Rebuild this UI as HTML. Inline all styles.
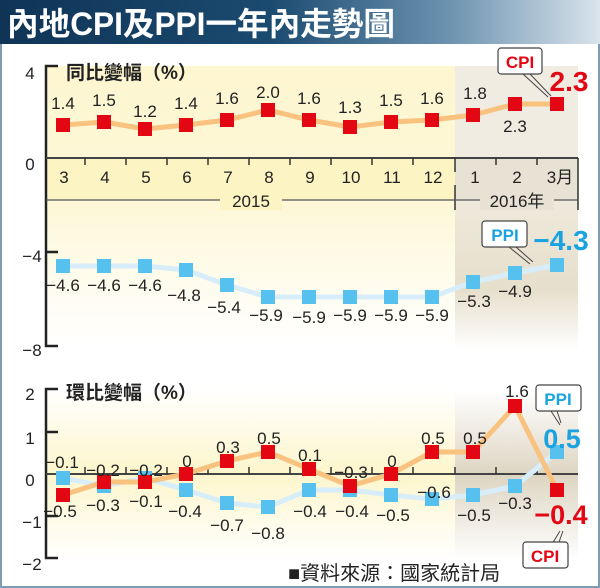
<!DOCTYPE html>
<html><head><meta charset="utf-8"><style>
html,body{margin:0;padding:0;background:#fff}
svg{display:block}
text{font-family:"Liberation Sans","Noto Sans CJK TC",sans-serif}
</style></head><body>
<svg width="600" height="588" viewBox="0 0 600 588" xmlns="http://www.w3.org/2000/svg">
<defs>
<linearGradient id="tg" x1="0" x2="1" y1="0" y2="0">
<stop offset="0" stop-color="#0f3456"/><stop offset="0.45" stop-color="#1b4a70"/><stop offset="0.75" stop-color="#6d93b0"/><stop offset="1" stop-color="#d9e4ec"/></linearGradient>
<linearGradient id="yg" x1="0" x2="0" y1="0" y2="1">
<stop offset="0" stop-color="#fdf6d0"/><stop offset="0.5" stop-color="#fef8d8"/><stop offset="1" stop-color="#ffffff"/></linearGradient>
<linearGradient id="yg2" x1="0" x2="0" y1="0" y2="1">
<stop offset="0" stop-color="#ffffff"/><stop offset="0.5" stop-color="#fdf6cc"/><stop offset="1" stop-color="#ffffff"/></linearGradient>
<linearGradient id="sg" x1="0" x2="0" y1="0" y2="1">
<stop offset="0" stop-color="#efe9dc"/><stop offset="0.6" stop-color="#e6dfcc"/><stop offset="1" stop-color="#ffffff"/></linearGradient>
<linearGradient id="sg2" x1="0" x2="0" y1="0" y2="1">
<stop offset="0" stop-color="#ffffff"/><stop offset="0.5" stop-color="#ddd5c2"/><stop offset="1" stop-color="#ffffff"/></linearGradient>
</defs>
<rect x="0" y="0" width="600" height="588" fill="#fff"/>
<rect x="1" y="1" width="598" height="586" fill="none" stroke="#7f9bb2" stroke-width="2"/>
<rect x="0" y="0" width="600" height="44" fill="url(#tg)"/>
<text x="7" y="35" font-size="32" font-weight="bold" fill="#fff" textLength="388" lengthAdjust="spacingAndGlyphs">內地CPI及PPI一年內走勢圖</text>

<rect x="46" y="66" width="409" height="280" fill="url(#yg)"/>
<rect x="455" y="66" width="123" height="100" fill="#f1ece2"/>
<rect x="455" y="158" width="123" height="42" fill="#e8e2d4"/>
<rect x="455" y="200" width="123" height="150" fill="url(#sg)"/>
<rect x="46" y="158" width="409" height="42" fill="#fdf4c4"/>

<g stroke="#222" stroke-width="2.5" fill="none">
<path d="M58 66 H46 V346 H58"/>
<path d="M46 252 H58"/>
</g>
<line x1="46" y1="158" x2="578" y2="158" stroke="#444" stroke-width="2"/>
<g stroke="#333" stroke-width="1.5">
<line x1="85" y1="158" x2="85" y2="165"/><line x1="126" y1="158" x2="126" y2="165"/><line x1="167" y1="158" x2="167" y2="165"/>
<line x1="208" y1="158" x2="208" y2="165"/><line x1="249" y1="158" x2="249" y2="165"/><line x1="290" y1="158" x2="290" y2="165"/>
<line x1="331" y1="158" x2="331" y2="165"/><line x1="372" y1="158" x2="372" y2="165"/><line x1="413" y1="158" x2="413" y2="165"/>
<line x1="455" y1="158" x2="455" y2="172"/><line x1="496" y1="158" x2="496" y2="165"/><line x1="537" y1="158" x2="537" y2="165"/>
<line x1="578" y1="158" x2="578" y2="210"/>
<line x1="455" y1="185" x2="455" y2="210"/>
</g>
<line x1="46" y1="200" x2="578" y2="200" stroke="#555" stroke-width="1.3"/>
<rect x="220" y="190" width="62" height="20" fill="#fdf4c4"/>
<rect x="480" y="190" width="74" height="20" fill="#e8e2d4"/>
<text x="251" y="207" font-size="17" text-anchor="middle" fill="#222">2015</text>
<text x="517" y="207" font-size="17" text-anchor="middle" fill="#222">2016年</text>
<g font-size="17" fill="#222" text-anchor="middle">
<text x="30" y="79">4</text><text x="30" y="170">0</text><text x="32" y="262">−4</text><text x="32" y="356">−8</text>
</g>
<text x="66" y="79" font-size="19" font-weight="bold" fill="#222">同比變幅（%）</text>
<g font-size="17" fill="#222" text-anchor="middle">
<text x="64" y="183">3</text><text x="105" y="183">4</text><text x="146" y="183">5</text><text x="187" y="183">6</text><text x="228" y="183">7</text><text x="269" y="183">8</text><text x="310" y="183">9</text><text x="351" y="183">10</text><text x="392" y="183">11</text><text x="433" y="183">12</text><text x="475" y="183">1</text><text x="517" y="183">2</text><text x="560" y="183">3月</text>
</g>
<polyline points="63,125 104,122 145,129 186,125 227,120 268,110 309,120 350,127 391,122 432,120 473,115 515,104 557,104" fill="none" stroke="#f9c27f" stroke-width="5"/>
<g fill="#e30613">
<rect x="56" y="118" width="14" height="14"/><rect x="97" y="115" width="14" height="14"/><rect x="138" y="122" width="14" height="14"/><rect x="179" y="118" width="14" height="14"/><rect x="220" y="113" width="14" height="14"/><rect x="261" y="103" width="14" height="14"/><rect x="302" y="113" width="14" height="14"/><rect x="343" y="120" width="14" height="14"/><rect x="384" y="115" width="14" height="14"/><rect x="425" y="113" width="14" height="14"/><rect x="466" y="108" width="14" height="14"/><rect x="508" y="97" width="14" height="14"/><rect x="550" y="97" width="14" height="14"/>
</g>
<g font-size="17" fill="#222" text-anchor="middle">
<text x="63" y="109">1.4</text><text x="104" y="106">1.5</text><text x="145" y="117">1.2</text><text x="186" y="109">1.4</text><text x="227" y="104">1.6</text><text x="268" y="98">2.0</text><text x="309" y="104">1.6</text><text x="350" y="113">1.3</text><text x="391" y="106">1.5</text><text x="432" y="104">1.6</text><text x="475" y="99">1.8</text><text x="515" y="132">2.3</text>
</g>
<rect x="498" y="48" width="44" height="26" rx="3" fill="#fff" stroke="#444" stroke-width="1.2"/>
<text x="520" y="68" font-size="17" font-weight="bold" fill="#e30613" text-anchor="middle">CPI</text>
<path d="M523 74 L548 97 M530 74 L551 96" stroke="#444" stroke-width="1"/>
<text x="569" y="91" font-size="28" font-weight="bold" fill="#e30613" text-anchor="middle">2.3</text>
<polyline points="63,266 104,266 145,266 186,270 227,285 268,297 309,297 350,297 391,297 432,297 473,282 515,273 557,265" fill="none" stroke="#d7eefa" stroke-width="5"/>
<g fill="#56c1ef">
<rect x="56" y="259" width="14" height="14"/><rect x="97" y="259" width="14" height="14"/><rect x="138" y="259" width="14" height="14"/><rect x="179" y="263" width="14" height="14"/><rect x="220" y="278" width="14" height="14"/><rect x="261" y="290" width="14" height="14"/><rect x="302" y="290" width="14" height="14"/><rect x="343" y="290" width="14" height="14"/><rect x="384" y="290" width="14" height="14"/><rect x="425" y="290" width="14" height="14"/><rect x="466" y="275" width="14" height="14"/><rect x="508" y="266" width="14" height="14"/><rect x="550" y="258" width="14" height="14"/>
</g>
<g font-size="17" fill="#222" text-anchor="middle">
<text x="63" y="291">−4.6</text><text x="104" y="291">−4.6</text><text x="145" y="291">−4.6</text><text x="184" y="301">−4.8</text><text x="224" y="313">−5.4</text><text x="266" y="321">−5.9</text><text x="309" y="323">−5.9</text><text x="350" y="321">−5.9</text><text x="391" y="321">−5.9</text><text x="432" y="321">−5.9</text><text x="474" y="307">−5.3</text><text x="515" y="297">−4.9</text>
</g>
<rect x="482" y="221" width="45" height="26" rx="3" fill="#fff" stroke="#444" stroke-width="1.2"/>
<text x="505" y="241" font-size="17" font-weight="bold" fill="#1aa3e0" text-anchor="middle">PPI</text>
<path d="M509 247 L530 264 M516 247 L533 262" stroke="#444" stroke-width="1"/>
<text x="561" y="250" font-size="28" font-weight="bold" fill="#1aa3e0" text-anchor="middle">−4.3</text>

<rect x="46" y="388" width="409" height="172" fill="url(#yg2)"/>
<rect x="455" y="390" width="123" height="170" fill="url(#sg2)"/>
<g stroke="#222" stroke-width="2.5" fill="none">
<path d="M58 389 H46 V558 H58"/>
<path d="M46 432 H58 M46 516 H58"/>
</g>
<line x1="46" y1="474" x2="578" y2="474" stroke="#444" stroke-width="2"/>
<g stroke="#333" stroke-width="1.5">
<line x1="85" y1="474" x2="85" y2="467"/><line x1="126" y1="474" x2="126" y2="467"/><line x1="167" y1="474" x2="167" y2="467"/><line x1="208" y1="474" x2="208" y2="467"/><line x1="249" y1="474" x2="249" y2="467"/><line x1="290" y1="474" x2="290" y2="467"/><line x1="331" y1="474" x2="331" y2="467"/><line x1="372" y1="474" x2="372" y2="467"/><line x1="413" y1="474" x2="413" y2="467"/><line x1="455" y1="474" x2="455" y2="467"/><line x1="496" y1="474" x2="496" y2="467"/><line x1="537" y1="474" x2="537" y2="467"/>
</g>
<g font-size="17" fill="#222" text-anchor="middle">
<text x="30" y="400">2</text><text x="30" y="444">1</text><text x="30" y="486">0</text><text x="32" y="528">−1</text><text x="32" y="570">−2</text>
</g>
<text x="66" y="399" font-size="19" font-weight="bold" fill="#222">環比變幅（%）</text>
<polyline points="63,478 104,486 145,478 186,490 227,503 268,507 309,490 350,490 391,495 432,499 473,495 515,486 557,452" fill="none" stroke="#d7eefa" stroke-width="5"/>
<g fill="#56c1ef">
<rect x="56" y="471" width="14" height="14"/><rect x="97" y="479" width="14" height="14"/><rect x="138" y="471" width="14" height="14"/><rect x="179" y="483" width="14" height="14"/><rect x="220" y="496" width="14" height="14"/><rect x="261" y="500" width="14" height="14"/><rect x="302" y="483" width="14" height="14"/><rect x="343" y="483" width="14" height="14"/><rect x="384" y="488" width="14" height="14"/><rect x="425" y="492" width="14" height="14"/><rect x="466" y="488" width="14" height="14"/><rect x="508" y="479" width="14" height="14"/><rect x="550" y="445" width="14" height="14"/>
</g>
<polyline points="63,495 104,482 145,482 186,474 227,461 268,452 309,469 350,486 391,474 432,452 473,452 515,406 557,490" fill="none" stroke="#f9c27f" stroke-width="5"/>
<g fill="#e30613">
<rect x="56" y="488" width="14" height="14"/><rect x="97" y="475" width="14" height="14"/><rect x="138" y="475" width="14" height="14"/><rect x="179" y="467" width="14" height="14"/><rect x="220" y="454" width="14" height="14"/><rect x="261" y="445" width="14" height="14"/><rect x="302" y="462" width="14" height="14"/><rect x="343" y="479" width="14" height="14"/><rect x="384" y="467" width="14" height="14"/><rect x="425" y="445" width="14" height="14"/><rect x="466" y="445" width="14" height="14"/><rect x="508" y="399" width="14" height="14"/><rect x="550" y="483" width="14" height="14"/>
</g>
<g font-size="17" fill="#222" text-anchor="middle">
<text x="62" y="468">−0.1</text><text x="103" y="476">−0.2</text><text x="146" y="476">−0.2</text><text x="187" y="467">0</text><text x="228" y="453">0.3</text><text x="269" y="444">0.5</text><text x="310" y="461">0.1</text><text x="351" y="478">−0.3</text><text x="392" y="467">0</text><text x="433" y="444">0.5</text><text x="475" y="444">0.5</text><text x="517" y="397">1.6</text>
<text x="60" y="517">−0.5</text><text x="103" y="511">−0.3</text><text x="146" y="507">−0.1</text><text x="185" y="517">−0.4</text><text x="227" y="531">−0.7</text><text x="268" y="539">−0.8</text><text x="310" y="517">−0.4</text><text x="352" y="517">−0.4</text><text x="393" y="521">−0.5</text><text x="434" y="498">−0.6</text><text x="474" y="521">−0.5</text><text x="515" y="509">−0.3</text>
</g>
<rect x="536" y="385" width="45" height="26" rx="3" fill="#fff" stroke="#444" stroke-width="1.2"/>
<text x="558" y="405" font-size="17" font-weight="bold" fill="#1aa3e0" text-anchor="middle">PPI</text>
<path d="M551 411 L560 425 M557 411 L561 423" stroke="#444" stroke-width="1"/>
<text x="562" y="448" font-size="27" font-weight="bold" fill="#1aa3e0" text-anchor="middle">0.5</text>
<text x="561" y="524" font-size="27" font-weight="bold" fill="#e30613" text-anchor="middle">−0.4</text>
<path d="M560 531 L552 544 M563 531 L559 542" stroke="#444" stroke-width="1"/>
<rect x="523" y="542" width="45" height="26" rx="3" fill="#fff" stroke="#444" stroke-width="1.2"/>
<text x="545" y="562" font-size="17" font-weight="bold" fill="#e30613" text-anchor="middle">CPI</text>
<text x="288" y="580" font-size="20" fill="#222">■資料來源：國家統計局</text>
</svg>
</body></html>
